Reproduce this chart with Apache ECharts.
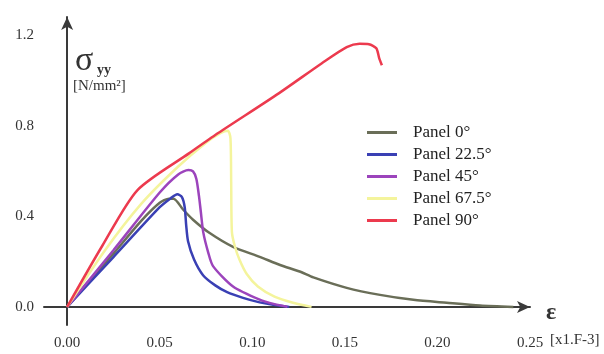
<!DOCTYPE html>
<html>
<head>
<meta charset="utf-8">
<script src="https://cdn.jsdelivr.net/npm/echarts@6/dist/echarts.min.js"></script>
<style>
html, body { margin: 0; background: #fff; }
#chart { width: 604px; height: 354px; }
</style>
</head>
<body>
<div id="chart"></div>
<script>
const names = ['Panel 0°', 'Panel 22.5°', 'Panel 45°', 'Panel 67.5°', 'Panel 90°']
const colors = ['#6a6e58', '#3a40b4', '#9c44bc', '#f4f49c', '#ec3a4e']

// strain [x1.E-3], stress [N/mm2]
const panel0 = [[0, 0], [0.01, 0.095], [0.025, 0.235], [0.04, 0.38], [0.05, 0.46], [0.055, 0.478], [0.0575, 0.478],
	[0.0626, 0.43], [0.068, 0.385], [0.077, 0.326], [0.0896, 0.265], [0.104, 0.221], [0.115, 0.185], [0.126, 0.155],
	[0.133, 0.13], [0.151, 0.084], [0.169, 0.053], [0.187, 0.031], [0.205, 0.018], [0.223, 0.006], [0.241, 0]]
const panel22 = [[0, 0], [0.025, 0.22], [0.05, 0.44], [0.056, 0.48], [0.0595, 0.497], [0.062, 0.485], [0.0635, 0.44],
	[0.0643, 0.36], [0.0653, 0.29], [0.0685, 0.21], [0.0734, 0.14], [0.08, 0.095], [0.0864, 0.065], [0.095, 0.04],
	[0.104, 0.02], [0.112, 0.008], [0.12, 0]]
const panel45 = [[0, 0], [0.025, 0.25], [0.05, 0.505], [0.06, 0.585], [0.0655, 0.604], [0.068, 0.598], [0.0698, 0.565],
	[0.0712, 0.49], [0.0722, 0.42], [0.0735, 0.33], [0.0762, 0.24], [0.0788, 0.18], [0.0896, 0.09], [0.104, 0.032],
	[0.112, 0.012], [0.119, 0]]
const panel67 = [[0, 0], [0.02, 0.245], [0.04, 0.455], [0.06, 0.62], [0.075, 0.725], [0.083, 0.768], [0.0868, 0.778],
	[0.0882, 0.745], [0.0886, 0.55], [0.089, 0.33], [0.0905, 0.27], [0.093, 0.21], [0.097, 0.145], [0.103, 0.09],
	[0.112, 0.045], [0.122, 0.018], [0.132, 0]]
const panel90 = [[0, 0], [0.019, 0.27], [0.038, 0.516], [0.066, 0.679], [0.08, 0.759], [0.1145, 0.944], [0.1376, 1.076],
	[0.151, 1.147], [0.158, 1.162], [0.163, 1.16], [0.167, 1.142], [0.1685, 1.1], [0.17, 1.067]]

const xTicks = [0, 0.05, 0.1, 0.15, 0.2, 0.25]
const yTicks = [0, 0.4, 0.8, 1.2]

const font = '"Liberation Serif", "DejaVu Serif", serif'
const onTick = (v, ticks) => ticks.some(t => Math.abs(v - t) < 1e-6)

const chart = echarts.init(document.getElementById('chart'))
chart.setOption({
	animation: false,
	color: colors,
	grid: { left: 44, right: 74, top: 17, bottom: 29, outerBoundsMode: 'none', containLabel: false },
	legend: {
		orient: 'vertical',
		left: 362,
		top: 119,
		icon: 'rect',
		itemWidth: 30,
		itemHeight: 3,
		itemGap: 5,
		textStyle: { fontFamily: font, fontSize: 17, color: '#222', padding: [0, 0, 0, 11] },
		data: names
	},
	xAxis: {
		type: 'value',
		min: -0.0125,
		max: 0.25,
		interval: 0.0125,
		axisLine: { onZero: true, symbol: ['none', 'arrow'], symbolSize: [9, 13], lineStyle: { color: '#3a3a3a', width: 2 } },
		axisTick: { show: false },
		splitLine: { show: false },
		axisLabel: {
			margin: 11,
			fontFamily: font,
			fontSize: 15,
			color: '#333',
			formatter: v => onTick(v, xTicks) ? v.toFixed(2) : ''
		}
	},
	yAxis: {
		type: 'value',
		min: -0.08,
		max: 1.28,
		interval: 0.04,
		axisLine: { onZero: true, symbol: ['none', 'arrow'], symbolSize: [9, 13], lineStyle: { color: '#3a3a3a', width: 2 } },
		axisTick: { show: false },
		splitLine: { show: false },
		axisLabel: {
			margin: 10,
			fontFamily: font,
			fontSize: 15,
			color: '#333',
			formatter: v => onTick(v, yTicks) ? v.toFixed(1) : ''
		}
	},
	graphic: [
		{ type: 'text', left: 75, top: 44, style: { text: 'σ', font: '34px ' + font, fill: '#333' } },
		{ type: 'text', left: 97, top: 63, style: { text: 'yy', font: 'bold 14px ' + font, fill: '#333' } },
		{ type: 'text', left: 73, top: 79, style: { text: '[N/mm²]', font: '15px ' + font, fill: '#333' } },
		{ type: 'text', left: 546, top: 301, style: { text: 'ε', font: 'bold 24px ' + font, fill: '#333' } },
		{ type: 'text', left: 550, top: 333, style: { text: '[x1.F-3]', font: '15px ' + font, fill: '#333' } }
	],
	series: [panel0, panel22, panel45, panel67, panel90].map((data, i) => ({
		name: names[i],
		type: 'line',
		data: data,
		symbol: 'none',
		smooth: 0.25,
		lineStyle: { width: 2.5 }
	}))
})
</script>
</body>
</html>
